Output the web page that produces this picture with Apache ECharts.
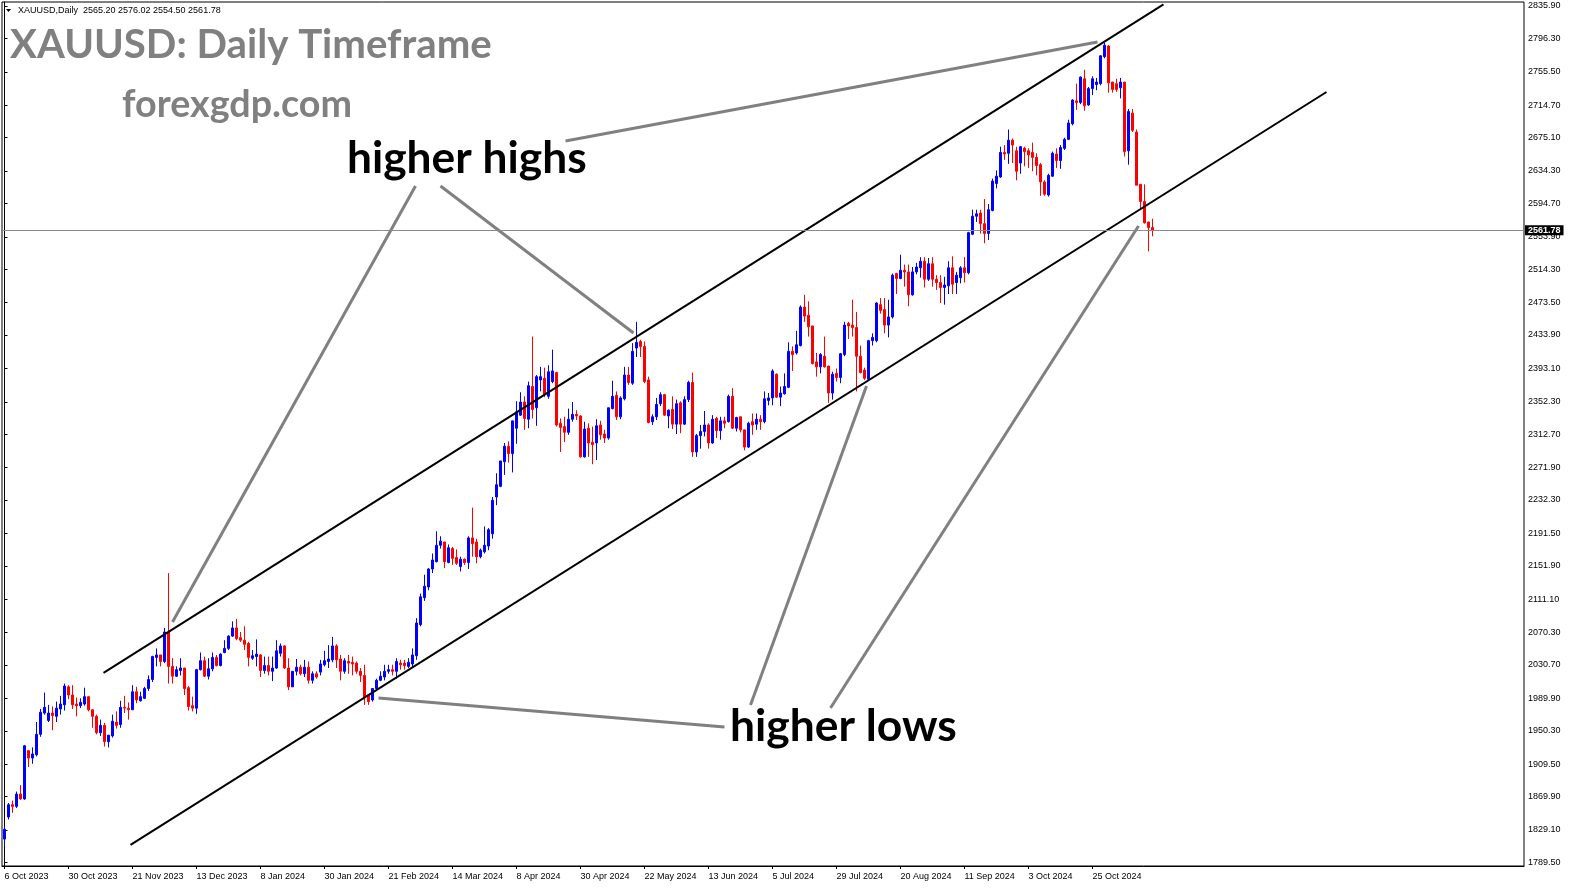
<!DOCTYPE html>
<html><head><meta charset="utf-8">
<script src="https://cdn.jsdelivr.net/npm/echarts@6/dist/echarts.min.js"></script>
<style>html,body{margin:0;padding:0;background:#fff}#c{width:1570px;height:888px}</style>
</head><body><div id="c"></div>
<script>
// ---- data (daily candles, index 0 = 6 Oct 2023) ----
const opens = [1818,1845,1860,1858,1873,1867,1926,1917,1921,1946,
1972,1963,1972,1968,1977,1982,2004,1994,1983,1981,
1983,1992,1976,1968,1948,1957,1937,1944,1961,1958,
1979,1978,1976,1998,1987,1990,2002,2013,2040,2043,
2035,2071,2029,2017,2024,2027,2003,1981,1978,2025,
2036,2017,2026,2040,2030,2046,2051,2066,2076,2064,
2061,2057,2039,2041,2043,2024,2030,2023,2027,2045,
2054,2027,2004,2023,2028,2020,2028,2012,2020,2022,
2031,2035,2037,2054,2038,2023,2035,2034,2033,2023,
2018,1994,1988,2002,2012,2016,2023,2025,2023,2033,
2033,2029,2032,2042,2080,2113,2126,2148,2157,2177,
2181,2156,2173,2162,2151,2160,2156,2186,2181,2163,
2169,2176,2191,2236,2249,2279,2298,2289,2320,2336,
2352,2331,2371,2345,2379,2381,2359,2377,2388,2326,
2322,2315,2331,2337,2335,2285,2320,2303,2302,2324,
2313,2308,2344,2360,2334,2356,2385,2375,2418,2426,
2420,2379,2328,2334,2350,2361,2335,2343,2325,2351,
2325,2355,2376,2291,2311,2316,2324,2302,2332,2317,
2329,2328,2359,2320,2334,2318,2297,2328,2325,2331,
2328,2354,2357,2386,2358,2362,2370,2414,2412,2421,
2468,2458,2445,2401,2395,2408,2396,2363,2387,2382,
2410,2448,2446,2443,2408,2391,2380,2427,2427,2471,
2465,2446,2456,2509,2503,2513,2511,2483,2511,2516,
2524,2502,2521,2502,2498,2492,2494,2516,2498,2504,
2516,2510,2557,2579,2583,2570,2558,2586,2619,2627,
2657,2656,2672,2659,2644,2662,2659,2657,2651,2642,
2621,2605,2628,2655,2647,2662,2673,2692,2720,2718,
2747,2715,2735,2740,2741,2774,2787,2743,2741,2736,
2743,2659,2705,2682,2618,2597,2572,2565.20];
const highs = [1834,1862,1865,1876,1884,1933,1927,1930,1961,1977,
1997,1982,1980,1986,1993,2008,2006,2006,1991,1990,
2003,1992,1976,1970,1964,1960,1945,1970,1974,1987,
1993,1985,2006,2004,1998,2004,2018,2042,2051,2043,
2076,2143,2039,2029,2039,2027,2005,1992,2026,2046,
2041,2039,2046,2043,2045,2061,2067,2084,2087,2071,
2078,2059,2049,2062,2044,2041,2041,2041,2061,2057,
2055,2039,2023,2038,2031,2037,2035,2023,2023,2037,
2048,2055,2065,2056,2043,2039,2043,2041,2035,2027,
2031,1994,2002,2014,2023,2031,2031,2031,2039,2037,
2037,2039,2051,2088,2118,2141,2149,2167,2194,2188,
2181,2178,2175,2172,2163,2161,2188,2223,2185,2173,
2200,2198,2236,2265,2280,2302,2304,2329,2353,2364,
2359,2377,2432,2385,2395,2394,2397,2416,2389,2332,
2334,2344,2352,2342,2336,2328,2326,2322,2331,2329,
2318,2345,2378,2365,2359,2395,2395,2424,2450,2428,
2426,2383,2337,2357,2364,2362,2343,2359,2355,2353,
2359,2378,2388,2313,2324,2341,2326,2336,2334,2334,
2334,2361,2369,2334,2334,2318,2328,2338,2338,2336,
2365,2363,2392,2387,2371,2387,2425,2420,2439,2470,
2483,2475,2445,2412,2412,2432,2396,2389,2393,2412,
2450,2450,2477,2462,2421,2394,2428,2436,2474,2479,
2479,2477,2509,2510,2532,2520,2520,2517,2522,2529,
2529,2528,2529,2507,2507,2505,2524,2530,2511,2518,
2529,2560,2587,2587,2587,2600,2594,2625,2635,2664,
2666,2685,2674,2664,2665,2664,2662,2669,2656,2644,
2623,2631,2658,2662,2666,2675,2697,2722,2741,2750,
2758,2737,2750,2748,2776,2791,2788,2743,2747,2748,
2743,2710,2710,2685,2618,2618,2572,2576.02];
const lows = [1809,1842,1850,1856,1866,1866,1906,1910,1919,1943,
1970,1961,1951,1961,1970,1975,1989,1977,1968,1978,
1981,1974,1954,1946,1944,1931,1930,1942,1953,1954,
1972,1964,1976,1984,1986,1989,1999,2010,2029,2029,
2033,2008,2008,2016,2018,1994,1975,1974,1971,2024,
2016,2013,2023,2029,2029,2045,2049,2065,2061,2059,
2049,2029,2037,2029,2016,2020,2018,2011,2026,2041,
2026,2000,2004,2018,2018,2016,2008,2008,2014,2018,
2029,2027,2034,2027,2012,2020,2020,2018,2020,2010,
1982,1982,1986,2000,2011,2012,2020,2018,2014,2025,
2025,2027,2028,2037,2078,2109,2122,2143,2156,2173,
2149,2155,2153,2153,2145,2153,2148,2163,2155,2161,
2167,2171,2185,2226,2248,2263,2278,2266,2301,2335,
2318,2320,2332,2323,2365,2358,2356,2375,2322,2291,
2303,2312,2328,2330,2284,2284,2285,2276,2281,2306,
2302,2306,2343,2330,2331,2354,2373,2373,2407,2407,
2375,2326,2324,2330,2347,2335,2320,2319,2313,2314,
2324,2352,2285,2285,2295,2310,2295,2301,2308,2306,
2320,2327,2319,2316,2315,2293,2296,2312,2318,2318,
2326,2348,2348,2357,2347,2361,2369,2390,2410,2420,
2450,2432,2398,2383,2387,2394,2351,2355,2377,2375,
2408,2429,2432,2365,2387,2379,2378,2421,2425,2460,
2436,2431,2454,2484,2502,2493,2469,2482,2508,2504,
2492,2500,2493,2489,2473,2471,2484,2484,2484,2497,
2498,2508,2556,2572,2558,2546,2550,2585,2613,2626,
2648,2643,2644,2623,2631,2640,2638,2634,2629,2604,
2604,2603,2627,2638,2637,2660,2672,2690,2709,2716,
2708,2714,2727,2733,2739,2772,2730,2730,2731,2723,
2652,2642,2682,2617,2587,2570,2536,2554.50];
const closes = [1830,1860,1858,1873,1867,1932,1917,1922,1946,1973,
1979,1972,1969,1978,1983,2005,1994,1982,1981,1985,
1992,1976,1968,1948,1957,1937,1945,1962,1957,1979,
1978,1976,1998,1988,1992,2002,2013,2041,2043,2035,
2071,2029,2017,2025,2027,2002,1980,1978,2025,2036,
2017,2026,2040,2030,2044,2051,2066,2076,2063,2061,
2056,2040,2042,2044,2024,2030,2023,2027,2048,2054,
2027,2004,2023,2028,2020,2028,2012,2020,2016,2032,
2036,2038,2054,2037,2023,2036,2033,2032,2023,2018,
1991,1986,2002,2012,2017,2023,2025,2023,2035,2031,
2030,2034,2043,2082,2114,2127,2148,2159,2177,2182,
2157,2174,2161,2155,2160,2156,2186,2179,2163,2171,
2177,2196,2232,2251,2280,2298,2289,2329,2340,2352,
2332,2372,2343,2383,2383,2361,2389,2390,2324,2321,
2315,2331,2337,2335,2285,2319,2302,2300,2323,2312,
2308,2345,2359,2334,2357,2385,2376,2414,2425,2420,
2377,2327,2334,2349,2361,2336,2342,2325,2350,2325,
2355,2376,2291,2311,2316,2324,2302,2331,2317,2329,
2326,2359,2320,2333,2318,2297,2326,2324,2331,2328,
2356,2357,2390,2358,2363,2371,2414,2410,2422,2468,
2457,2444,2399,2395,2410,2395,2363,2386,2382,2411,
2446,2445,2443,2408,2388,2381,2427,2431,2473,2464,
2446,2456,2507,2503,2513,2511,2483,2511,2517,2524,
2502,2521,2502,2498,2492,2495,2516,2496,2507,2516,
2510,2559,2579,2582,2570,2558,2587,2622,2628,2657,
2655,2672,2666,2634,2664,2658,2654,2651,2641,2621,
2606,2629,2656,2647,2663,2673,2693,2721,2718,2749,
2714,2735,2747,2743,2775,2788,2742,2734,2734,2743,
2658,2707,2684,2617,2597,2571,2565,2561.78];

const xTickLabels = ['6 Oct 2023','30 Oct 2023','21 Nov 2023','13 Dec 2023','8 Jan 2024','30 Jan 2024',
  '21 Feb 2024','14 Mar 2024','8 Apr 2024','30 Apr 2024','22 May 2024','13 Jun 2024','5 Jul 2024',
  '29 Jul 2024','20 Aug 2024','11 Sep 2024','3 Oct 2024','25 Oct 2024'];
const xTickStep = 16; // candles between date labels
const yTickLabels = [1789.50,1829.10,1869.90,1909.50,1950.30,1989.90,2030.70,2070.30,2111.10,2151.90,
  2191.50,2232.30,2271.90,2312.70,2352.30,2393.10,2433.90,2473.50,2514.30,2553.90,2594.70,2634.30,
  2675.10,2714.70,2755.50,2796.30,2835.90];
const lastPrice = 2561.78;
const headerText = 'XAUUSD,Daily  2565.20 2576.02 2554.50 2561.78';

// annotation lines in data units: [candle index, price]
const channelLines = [
  [[24.75, 2021.0], [289.75, 2838.0]],
  [[31.5, 1810.9], [330.5, 2730.8]]
];
const pointerLines = [
  [[102.75, 2616.0], [42, 2083.3]],
  [[109, 2616.0], [157.25, 2436.4]],
  [[140.25, 2671.0], [273.25, 2791.9]],
  [[180, 1954.9], [93.5, 1990.4]],
  [[186.5, 1981.9], [215.5, 2371.6]],
  [[206.5, 1978.2], [283.5, 2567.1]]
];

// ---- chart ----
const candleData = opens.map((o, i) => [i, o, closes[i], lows[i], highs[i]]);
const xTickValues = xTickLabels.map((_, k) => k * xTickStep);

const chart = echarts.init(document.getElementById('c'), null, {renderer: 'canvas'});
chart.setOption({
  animation: false,
  backgroundColor: '#ffffff',
  grid: {left: 2, right: 46, top: 2, bottom: 22, show: true, borderColor: '#000', borderWidth: 1, containLabel: false},
  xAxis: {
    type: 'value', min: -0.625, max: 379.875,
    axisLine: {show: true, lineStyle: {color: '#000', width: 1}},
    axisTick: {show: true, customValues: xTickValues, length: 3, lineStyle: {color: '#000'}},
    axisLabel: {customValues: xTickValues, formatter: v => xTickLabels[Math.round(v / xTickStep)] || '',
      align: 'left', margin: 6, fontSize: 9, color: '#000', fontFamily: 'Liberation Sans'},
    splitLine: {show: false}
  },
  yAxis: {
    type: 'value', position: 'right', min: 1785.1, max: 2840.8, scale: true,
    axisLine: {show: true, lineStyle: {color: '#000', width: 1}},
    axisTick: {show: true, customValues: yTickLabels, length: 3, lineStyle: {color: '#000'}},
    axisLabel: {customValues: yTickLabels, formatter: v => v.toFixed(2), margin: 4, fontSize: 9,
      color: '#000', fontFamily: 'Liberation Sans'},
    splitLine: {show: false}
  },
  series: [
    {
      type: 'candlestick',
      data: candleData,
      encode: {x: 0, y: [1, 2, 3, 4]},
      barWidth: 2,
      itemStyle: {color: '#0000ff', color0: '#ff0000', borderColor: '#0000ff', borderColor0: '#ff0000', borderWidth: 1},
      markLine: {
        silent: true, symbol: ['none', 'none'], z: 10,
        lineStyle: {color: '#8a8a8a', width: 1, type: 'solid'},
        label: {show: true, position: 'end', formatter: lastPrice.toFixed(2), color: '#fff', backgroundColor: '#000',
          fontSize: 9, fontFamily: 'Liberation Sans', fontWeight: 'bold', padding: [1, 3, 0, 3], distance: 1},
        data: [{yAxis: lastPrice}]
      }
    },
    {
      type: 'lines', coordinateSystem: 'cartesian2d', silent: true, z: 4,
      lineStyle: {color: '#000', width: 2, opacity: 1},
      data: channelLines.map(c => ({coords: c}))
    },
    {
      type: 'lines', coordinateSystem: 'cartesian2d', silent: true, z: 5,
      lineStyle: {color: '#808080', width: 3, opacity: 1},
      data: pointerLines.map(c => ({coords: c}))
    }
  ],
  graphic: [
    {type: 'polygon', shape: {points: [[6, 9], [11, 9], [8.5, 12]]}, style: {fill: '#000'}},
    {type: 'text', x: 18, y: 11, style: {text: headerText, font: '9px "Liberation Sans"', fill: '#000', textVerticalAlign: 'middle'}},
    {type: 'text', x: 10, y: 45, style: {text: 'XAUUSD: Daily Timeframe', font: 'bold 40.2px Lato', fill: '#808080', textVerticalAlign: 'middle'}},
    {type: 'text', x: 122, y: 105, style: {text: 'forexgdp.com', font: 'bold 37.7px Lato', fill: '#808080', textVerticalAlign: 'middle'}},
    {type: 'text', x: 347, y: 159, style: {text: 'higher highs', font: 'bold 44.3px Lato', fill: '#000', textVerticalAlign: 'middle'}},
    {type: 'text', x: 730, y: 727, style: {text: 'higher lows', font: 'bold 44.4px Lato', fill: '#000', textVerticalAlign: 'middle'}}
  ]
});
</script></body></html>
